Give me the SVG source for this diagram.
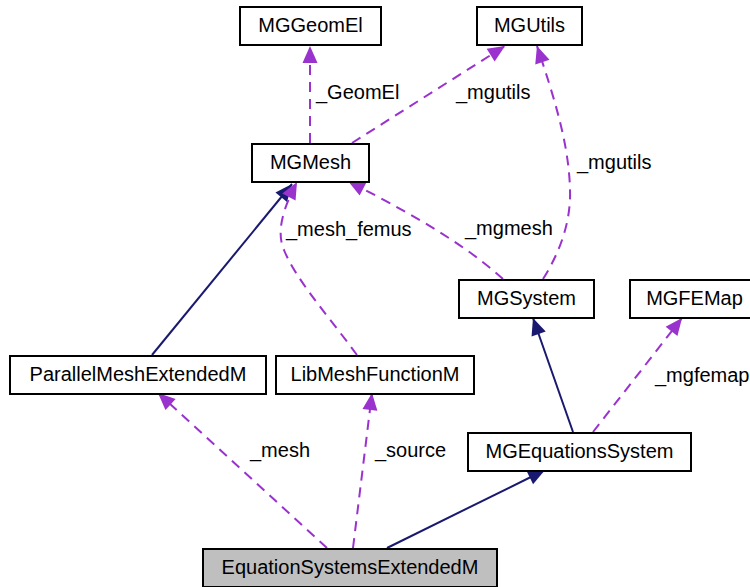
<svg xmlns="http://www.w3.org/2000/svg" width="750" height="587" viewBox="0 0 750 587">
  <defs>
    <marker id="arrow-use" viewBox="0 0 17 15" refX="17" refY="7.5" markerWidth="17" markerHeight="15" markerUnits="userSpaceOnUse" orient="auto" overflow="visible">
      <path d="M0,0 L17,7.5 L0,15 z" fill="#9a32cd"/>
    </marker>
    <marker id="arrow-inherit" viewBox="0 0 17 15" refX="17" refY="7.5" markerWidth="17" markerHeight="15" markerUnits="userSpaceOnUse" orient="auto" overflow="visible">
      <path d="M0,0 L17,7.5 L0,15 z" fill="#191970"/>
    </marker>
    <style>
      .node rect { fill: #ffffff; stroke: #000000; stroke-width: 2; }
      .node.root rect { fill: #bfbfbf; }
      .node text { font-family: "Liberation Sans", Arial, sans-serif; font-size: 20px; fill: #000000; text-anchor: middle; }
      .use { fill: none; stroke: #9a32cd; stroke-width: 2; stroke-dasharray: 10 7; marker-end: url(#arrow-use); }
      .inherit { fill: none; stroke: #191970; stroke-width: 2; marker-end: url(#arrow-inherit); }
      .label { font-family: "Liberation Sans", Arial, sans-serif; font-size: 20px; fill: #000000; }
    </style>
  </defs>
  <rect width="750" height="587" fill="#ffffff"/>

  <g id="connectors">
    <path class="use" d="M310,143 L310,46"/>
    <path class="use" d="M352,143 L505,46"/>
    <path class="use" d="M543,279 C560,252 571,222 570,190 C569,145 555,100 537,46"/>
    <path class="use" d="M503,279 C460,240 400,208 348,181"/>
    <path class="inherit" d="M152,355 L292,184"/>
    <path class="use" d="M357,355 C330,318 296,280 284,250 C276,232 283,208 297,182"/>
    <path class="inherit" d="M573,432 L533,318"/>
    <path class="use" d="M593,432 L682,318"/>
    <path class="use" d="M327,548 L158,393"/>
    <path class="use" d="M353,548 L372,393"/>
    <path class="inherit" d="M387,548 L545,470"/>

    <text class="label" x="316" y="99">_GeomEl</text>
    <text class="label" x="456" y="99">_mgutils</text>
    <text class="label" x="577" y="169">_mgutils</text>
    <text class="label" x="286" y="236">_mesh_femus</text>
    <text class="label" x="465" y="235">_mgmesh</text>
    <text class="label" x="655" y="382">_mgfemap</text>
    <text class="label" x="250" y="457">_mesh</text>
    <text class="label" x="375" y="457">_source</text>
  </g>

  <g id="MGGeomEl" class="node">
    <rect x="240" y="7" width="141" height="38"/>
    <text x="310.5" y="32">MGGeomEl</text>
  </g>
  <g id="MGUtils" class="node">
    <rect x="477" y="7" width="105" height="38"/>
    <text x="529.5" y="32">MGUtils</text>
  </g>
  <g id="MGMesh" class="node">
    <rect x="252" y="144" width="117" height="38"/>
    <text x="310.5" y="169">MGMesh</text>
  </g>
  <g id="MGSystem" class="node">
    <rect x="459" y="280" width="135" height="38"/>
    <text x="526.5" y="305">MGSystem</text>
  </g>
  <g id="MGFEMap" class="node">
    <rect x="630" y="280" width="135" height="38"/>
    <text x="694.5" y="305">MGFEMap</text>
  </g>
  <g id="ParallelMeshExtendedM" class="node">
    <rect x="10" y="356" width="256" height="38"/>
    <text x="138" y="381">ParallelMeshExtendedM</text>
  </g>
  <g id="LibMeshFunctionM" class="node">
    <rect x="276" y="356" width="198" height="38"/>
    <text x="375" y="381">LibMeshFunctionM</text>
  </g>
  <g id="MGEquationsSystem" class="node">
    <rect x="468" y="433" width="223" height="38"/>
    <text x="579.5" y="458">MGEquationsSystem</text>
  </g>
  <g id="EquationSystemsExtendedM" class="node root">
    <rect x="203" y="549" width="294" height="38"/>
    <text x="350" y="574">EquationSystemsExtendedM</text>
  </g>
</svg>
